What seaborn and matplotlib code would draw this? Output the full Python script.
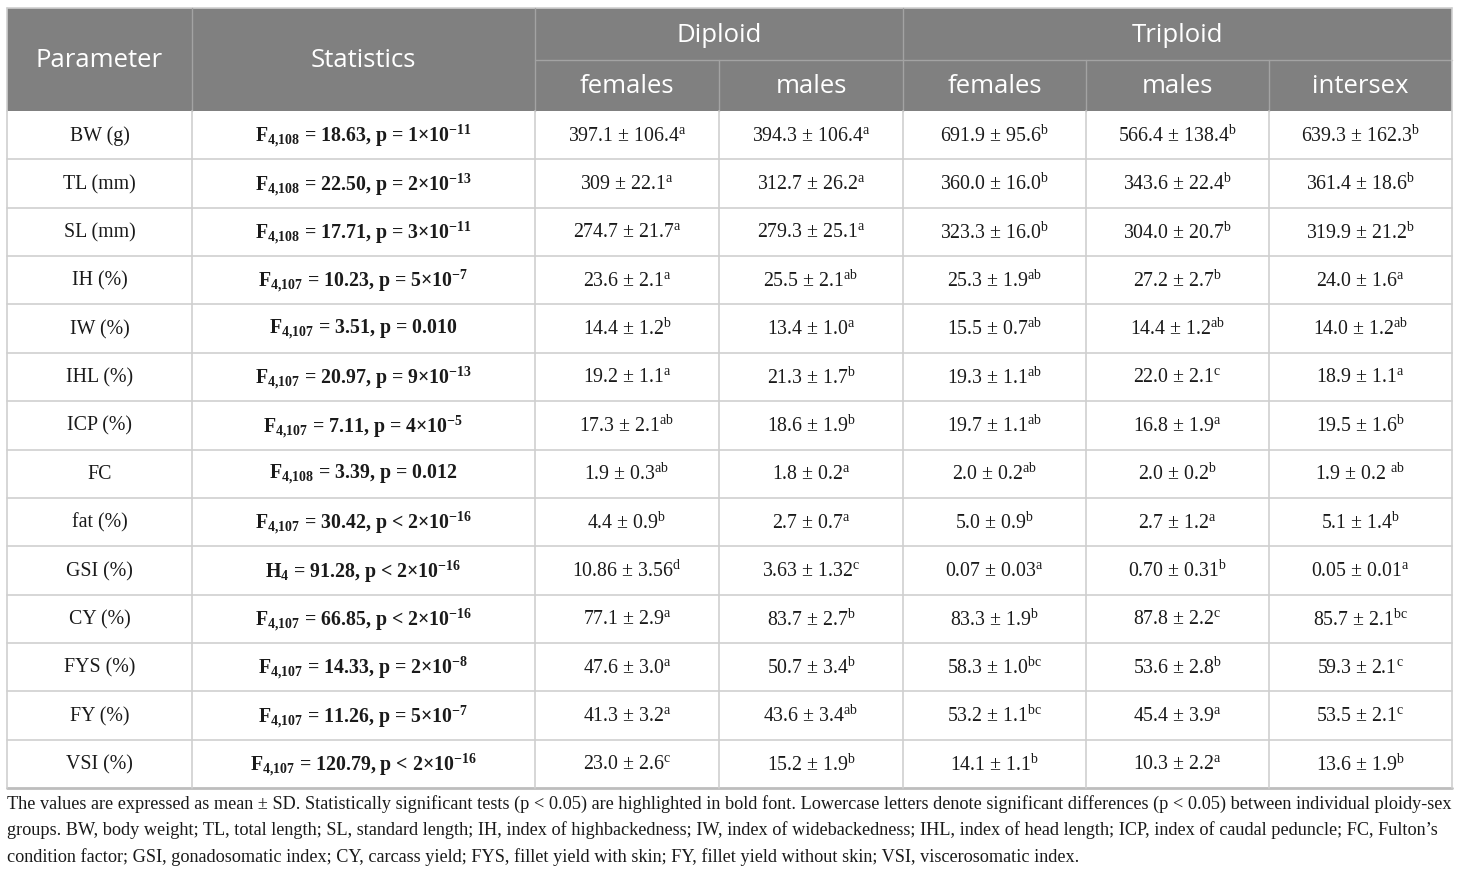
import matplotlib
matplotlib.use("Agg")
import matplotlib.pyplot as plt
from matplotlib.patches import Rectangle
import seaborn as sns

# Daten der Tabelle
parameters = ["BW (g)", "TL (mm)", "SL (mm)", "IH (%)", "IW (%)", "IHL (%)", "ICP (%)",
              "FC", "fat (%)", "GSI (%)", "CY (%)", "FYS (%)", "FY (%)", "VSI (%)"]

test_name = ["F", "F", "F", "F", "F", "F", "F", "F", "F", "H", "F", "F", "F", "F"]
test_df = ["4,108", "4,108", "4,108", "4,107", "4,107", "4,107", "4,107",
           "4,108", "4,107", "4", "4,107", "4,107", "4,107", "4,107"]
test_stat = ["18.63", "22.50", "17.71", "10.23", "3.51", "20.97", "7.11",
             "3.39", "30.42", "91.28", "66.85", "14.33", "11.26", "120.79"]
p_rel = ["=", "=", "=", "=", "=", "=", "=", "=", "<", "<", "<", "=", "=", "<"]
p_value = ["1e-11", "2e-13", "3e-11", "5e-7", "0.010", "9e-13", "4e-5",
           "0.012", "2e-16", "2e-16", "2e-16", "2e-8", "5e-7", "2e-16"]

groups = ["Diploid", "Triploid"]
sexes = ["females", "males", "females", "males", "intersex"]

dip_f_vals = ["397.1 ± 106.4", "309 ± 22.1", "274.7 ± 21.7", "23.6 ± 2.1", "14.4 ± 1.2",
              "19.2 ± 1.1", "17.3 ± 2.1", "1.9 ± 0.3", "4.4 ± 0.9", "10.86 ± 3.56",
              "77.1 ± 2.9", "47.6 ± 3.0", "41.3 ± 3.2", "23.0 ± 2.6"]
dip_f_let = ["a", "a", "a", "a", "b", "a", "ab", "ab", "b", "d", "a", "a", "a", "c"]

dip_m_vals = ["394.3 ± 106.4", "312.7 ± 26.2", "279.3 ± 25.1", "25.5 ± 2.1", "13.4 ± 1.0",
              "21.3 ± 1.7", "18.6 ± 1.9", "1.8 ± 0.2", "2.7 ± 0.7", "3.63 ± 1.32",
              "83.7 ± 2.7", "50.7 ± 3.4", "43.6 ± 3.4", "15.2 ± 1.9"]
dip_m_let = ["a", "a", "a", "ab", "a", "b", "b", "a", "a", "c", "b", "b", "ab", "b"]

tri_f_vals = ["691.9 ± 95.6", "360.0 ± 16.0", "323.3 ± 16.0", "25.3 ± 1.9", "15.5 ± 0.7",
              "19.3 ± 1.1", "19.7 ± 1.1", "2.0 ± 0.2", "5.0 ± 0.9", "0.07 ± 0.03",
              "83.3 ± 1.9", "58.3 ± 1.0", "53.2 ± 1.1", "14.1 ± 1.1"]
tri_f_let = ["b", "b", "b", "ab", "ab", "ab", "ab", "ab", "b", "a", "b", "bc", "bc", "b"]

tri_m_vals = ["566.4 ± 138.4", "343.6 ± 22.4", "304.0 ± 20.7", "27.2 ± 2.7", "14.4 ± 1.2",
              "22.0 ± 2.1", "16.8 ± 1.9", "2.0 ± 0.2", "2.7 ± 1.2", "0.70 ± 0.31",
              "87.8 ± 2.2", "53.6 ± 2.8", "45.4 ± 3.9", "10.3 ± 2.2"]
tri_m_let = ["b", "b", "b", "b", "ab", "c", "a", "b", "a", "b", "c", "b", "a", "a"]

tri_i_vals = ["639.3 ± 162.3", "361.4 ± 18.6", "319.9 ± 21.2", "24.0 ± 1.6", "14.0 ± 1.2",
              "18.9 ± 1.1", "19.5 ± 1.6", "1.9 ± 0.2 ", "5.1 ± 1.4", "0.05 ± 0.01",
              "85.7 ± 2.1", "59.3 ± 2.1", "53.5 ± 2.1", "13.6 ± 1.9"]
tri_i_let = ["b", "b", "b", "a", "ab", "a", "b", "ab", "b", "a", "bc", "c", "c", "b"]

footnote = [
    "The values are expressed as mean ± SD. Statistically significant tests (p < 0.05) are highlighted in bold font. "
    "Lowercase letters denote significant differences (p < 0.05) between individual ploidy-sex",
    "groups. BW, body weight; TL, total length; SL, standard length; IH, index of highbackedness; IW, index of "
    "widebackedness; IHL, index of head length; ICP, index of caudal peduncle; FC, Fulton’s",
    "condition factor; GSI, gonadosomatic index; CY, carcass yield; FYS, fillet yield with skin; FY, fillet yield "
    "without skin; VSI, viscerosomatic index.",
]

# Layout
sns.set_theme(style="white")
plt.rcParams["mathtext.fontset"] = "custom"
plt.rcParams["mathtext.rm"] = "Liberation Serif"
plt.rcParams["mathtext.it"] = "Liberation Serif:italic"
plt.rcParams["mathtext.bf"] = "Liberation Serif:bold"

col_edges = [7, 192, 535, 719, 903, 1086, 1269, 1452]
head_top, head_mid, head_bot = 8, 60, 111
row_h = 48.36
n_rows = len(parameters)
body_bot = head_bot + n_rows * row_h

header_bg = "#808080"
header_line = "#a3a3a3"
grid_col = "#cfcfcf"
text_col = "#1a1a1a"
sans = ["Open Sans", "DejaVu Sans"]
serif = ["Liberation Serif", "DejaVu Serif"]

fig = plt.figure(figsize=(14.6, 8.75), dpi=100)
ax = fig.add_axes([0, 0, 1, 1])
ax.set_xlim(0, 1460)
ax.set_ylim(875, 0)
ax.axis("off")

# Kopfzeile
ax.add_patch(Rectangle((col_edges[0], head_top), col_edges[-1] - col_edges[0],
                       head_bot - head_top, facecolor=header_bg, edgecolor="none"))
ax.plot([col_edges[0], col_edges[-1]], [head_top, head_top], color=grid_col, lw=1.2)
ax.plot([col_edges[2], col_edges[-1]], [head_mid, head_mid], color=header_line, lw=1)
for x in [col_edges[1], col_edges[2], col_edges[4]]:
    ax.plot([x, x], [head_top, head_bot], color=header_line, lw=1)
for x in [col_edges[3], col_edges[5], col_edges[6]]:
    ax.plot([x, x], [head_mid, head_bot], color=header_line, lw=1)

def cx(i):
    return (col_edges[i] + col_edges[i + 1]) / 2

hdr_kw = dict(color="white", fontsize=18.5, family=sans, ha="center", va="center")
ax.text(cx(0), (head_top + head_bot) / 2 + 1, "Parameter", **hdr_kw)
ax.text(cx(1), (head_top + head_bot) / 2 + 1, "Statistics", **hdr_kw)
ax.text((col_edges[2] + col_edges[4]) / 2, (head_top + head_mid) / 2 + 1, groups[0], **hdr_kw)
ax.text((col_edges[4] + col_edges[7]) / 2, (head_top + head_mid) / 2 + 1, groups[1], **hdr_kw)
for j, s in enumerate(sexes):
    ax.text(cx(j + 2), (head_mid + head_bot) / 2 + 1, s, **hdr_kw)

# Gitter im Tabellenkörper
for i in range(1, n_rows):
    y = head_bot + i * row_h
    ax.plot([col_edges[0], col_edges[-1]], [y, y], color=grid_col, lw=1.2)
ax.plot([col_edges[0], col_edges[-1]], [body_bot, body_bot], color="#bdbdbd", lw=2)
for x in col_edges:
    ax.plot([x, x], [head_bot, body_bot], color=grid_col, lw=1.2)
for x in [col_edges[0], col_edges[-1]]:
    ax.plot([x, x], [head_top, head_bot], color=grid_col, lw=1.2)

def stat_label(i):
    p = p_value[i]
    if "e" in p:
        coef, ex = p.split("e")
        p_txt = coef + "×10$^{\\mathbf{" + ex + "}}$"
    else:
        p_txt = p
    df = test_df[i].replace(",", "{,}")
    return (test_name[i] + "$_{\\mathbf{" + df + "}}$ = " + test_stat[i]
            + ", p " + p_rel[i] + " " + p_txt)

value_cols = [(dip_f_vals, dip_f_let), (dip_m_vals, dip_m_let), (tri_f_vals, tri_f_let),
              (tri_m_vals, tri_m_let), (tri_i_vals, tri_i_let)]

body_kw = dict(color=text_col, fontsize=14.3, family=serif, ha="center", va="center")
for i in range(n_rows):
    y = head_bot + (i + 0.5) * row_h + 1
    ax.text(cx(0), y, parameters[i], **body_kw)
    ax.text(cx(1), y, stat_label(i), fontweight="bold", **body_kw)
    for j, (vals, lets) in enumerate(value_cols):
        ax.text(cx(j + 2), y, vals[i] + "$^{\\mathrm{" + lets[i] + "}}$", **body_kw)

# Fußnote
for k, line in enumerate(footnote):
    ax.text(col_edges[0], 804 + k * 26.5, line, color=text_col, fontsize=13.15,
            family=serif, ha="left", va="center")

fig.savefig("out.png", dpi=100)
